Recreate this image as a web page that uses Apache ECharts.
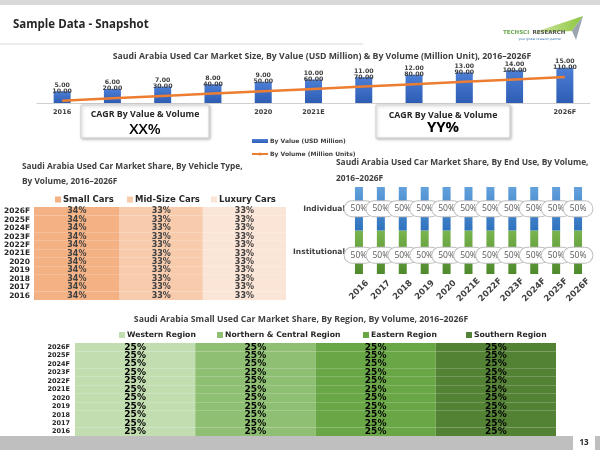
<!DOCTYPE html>
<html><head><meta charset="utf-8">
<script src="https://cdn.jsdelivr.net/npm/echarts@6/dist/echarts.min.js"></script>
<style>html,body{margin:0;padding:0;background:#fff}#c{width:600px;height:450px}</style>
</head><body><div id="c"></div>
<script>
// ---------- data ----------
const years = ['2016','2017','2018','2019','2020','2021E','2022F','2023F','2024F','2025F','2026F'];
const marketValue = [5,6,7,8,9,10,11,12,13,14,15];
const marketVolume = [10,20,30,40,50,60,70,80,90,100,110];
const smallCars = [34,34,34,34,34,34,34,34,34,34,34];
const midSizeCars = [33,33,33,33,33,33,33,33,33,33,33];
const luxuryCars = [33,33,33,33,33,33,33,33,33,33,33];
const individualUse = [50,50,50,50,50,50,50,50,50,50,50];
const institutionalUse = [50,50,50,50,50,50,50,50,50,50,50];
const endUseCategories = ['Institutional','Individual'];
const westernRegion = [25,25,25,25,25,25,25,25,25,25,25];
const northernCentralRegion = [25,25,25,25,25,25,25,25,25,25,25];
const easternRegion = [25,25,25,25,25,25,25,25,25,25,25];
const southernRegion = [25,25,25,25,25,25,25,25,25,25,25];

// ---------- style ----------
const DV = 'DejaVu Sans', OS = 'Open Sans';
const dark = '#404040';
const chart = echarts.init(document.getElementById('c'));
const grad = (a, b) => new echarts.graphic.LinearGradient(0, 0, 0, 1, [{offset:0,color:a},{offset:1,color:b}]);

function hbar(name, data, color, xi, yi, stack, lab) {
  return {
    type:'bar', name, data, stack, xAxisIndex:xi, yAxisIndex:yi,
    barCategoryGap:'0%', itemStyle:{color},
    label:Object.assign({show:true, position:'inside', formatter:'{c}%', fontFamily:DV, fontWeight:'bold'}, lab)
  };
}
function singleLegend(name, left, top, fs) {
  return {data:[name], left, top, icon:'rect', itemWidth:6, itemHeight:6, itemGap:0,
    textStyle:{fontFamily:DV, fontWeight:'bold', fontSize:fs, color:'#262626', padding:[0,0,0,-3]}};
}
const hiddenVal = (gi, max) => ({type:'value', gridIndex:gi, show:false, min:0, max});
const catLabel = (fs, margin) => ({fontFamily:DV, fontWeight:'bold', fontSize:fs, color:'#262626', margin, interval:0});
const ellipseLabel = {show:true, position:'inside', formatter:'{c}%', fontFamily:OS, fontSize:8.5, color:'#595959',
  backgroundColor:'#fff', borderColor:'#bfbfbf', borderWidth:1, borderRadius:14, padding:[3,6]};

const option = {
  animation:false,
  grid:[
    {left:37, top:63, width:553, height:40, outerBoundsMode:'none'},
    {left:34, top:207, width:252, height:93, outerBoundsMode:'none'},
    {left:348, top:187, width:241, height:87, outerBoundsMode:'none'},
    {left:75, top:343, width:481, height:93, outerBoundsMode:'none'}
  ],
  xAxis:[
    {type:'category', gridIndex:0, data:years, axisTick:{show:false},
     axisLine:{lineStyle:{color:'#d0d0d0'}},
     axisLabel:{fontFamily:DV, fontWeight:'bold', fontSize:6.5, color:dark, margin:6,
       interval:(i)=>[0,4,5,10].includes(i)}},
    hiddenVal(1, 100),
    {type:'category', gridIndex:2, data:years, axisTick:{show:false}, axisLine:{show:false},
     axisLabel:{fontFamily:DV, fontWeight:'bold', fontSize:8.5, color:dark, rotate:45,
       align:'center', verticalAlign:'middle', margin:16, interval:0}},
    hiddenVal(3, 100)
  ],
  yAxis:[
    hiddenVal(0, 17),
    hiddenVal(0, 170),
    {type:'category', gridIndex:1, data:years, axisTick:{show:false}, axisLine:{show:false},
     axisLabel:catLabel(7.5, 4)},
    hiddenVal(2, 100),
    {type:'category', gridIndex:2, position:'left', data:endUseCategories, axisTick:{show:false}, axisLine:{show:false},
     axisLabel:Object.assign(catLabel(7.5, 3), {color:dark})},
    {type:'category', gridIndex:3, data:years, axisTick:{show:false}, axisLine:{show:false},
     axisLabel:catLabel(6.5, 5)}
  ],
  legend:[
    {data:[{name:'By Value (USD Million)', icon:'rect'}, {name:'By Volume (Million Units)'}],
     left:246, top:133, orient:'vertical', itemWidth:16, itemHeight:4, itemGap:7,
     textStyle:{fontFamily:DV, fontWeight:'bold', fontSize:6, color:dark, padding:[0,0,0,-3]}},
    singleLegend('Small Cars', 50, 190, 8.5),
    singleLegend('Mid-Size Cars', 122, 190, 8.5),
    singleLegend('Luxury Cars', 206, 190, 8.5),
    singleLegend('Western Region', 114, 326, 7.7),
    singleLegend('Northern & Central Region', 212, 326, 7.7),
    singleLegend('Eastern Region', 358, 326, 7.7),
    singleLegend('Southern Region', 461, 326, 7.7)
  ],
  series:[
    {type:'bar', name:'By Value (USD Million)', data:marketValue, xAxisIndex:0, yAxisIndex:0, barWidth:17,
     itemStyle:{color:grad('#4d7fd6','#2d5cb3')},
     label:{show:true, position:'top', distance:-3,
       formatter:(p)=>'{a|'+marketValue[p.dataIndex].toFixed(2)+'}\n{a|'+marketVolume[p.dataIndex].toFixed(2)+'}',
       rich:{a:{fontFamily:DV, fontWeight:'bold', fontSize:6.2, color:dark, lineHeight:6}}}},
    {type:'line', name:'By Volume (Million Units)', data:marketVolume, xAxisIndex:0, yAxisIndex:1,
     symbol:'none', z:5, lineStyle:{color:'#ED7D31', width:2.5}, itemStyle:{color:'#ED7D31'}},

    hbar('Small Cars', smallCars, '#F4B183', 1, 2, 'veh', {fontSize:8, color:dark}),
    hbar('Mid-Size Cars', midSizeCars, '#F8CBAD', 1, 2, 'veh', {fontSize:8, color:dark}),
    hbar('Luxury Cars', luxuryCars, '#FBE5D6', 1, 2, 'veh', {fontSize:8, color:dark}),

    {type:'bar', name:'Institutional', data:institutionalUse, stack:'use', xAxisIndex:2, yAxisIndex:3, barWidth:8,
     itemStyle:{color:grad('#7ab54f','#4e8a2c')},
     label:Object.assign({offset:[0,3]}, ellipseLabel)},
    {type:'bar', name:'Individual', data:individualUse, stack:'use', xAxisIndex:2, yAxisIndex:3, barWidth:8,
     itemStyle:{color:grad('#62a1dc','#2f72bd')},
     label:ellipseLabel},

    hbar('Western Region', westernRegion, '#C2DDB0', 3, 5, 'reg', {fontSize:9, color:'#000'}),
    hbar('Northern & Central Region', northernCentralRegion, '#8FBF72', 3, 5, 'reg', {fontSize:9, color:'#000'}),
    hbar('Eastern Region', easternRegion, '#69A645', 3, 5, 'reg', {fontSize:9, color:'#000'}),
    hbar('Southern Region', southernRegion, '#548235', 3, 5, 'reg', {fontSize:9, color:'#000'})
  ],
  graphic:[
    {type:'rect', shape:{x:0,y:0,width:600,height:5}, style:{fill:'#d9d9d9'}},
    {type:'text', x:13, y:25, style:{text:'Sample Data - Snapshot', fontFamily:OS, fontWeight:'bold', fontSize:11.5, fill:'#262626', verticalAlign:'middle'}},
    {type:'line', shape:{x1:0,y1:44,x2:363,y2:44}, style:{stroke:'#d9d9d9', lineWidth:1}},
    // logo
    {type:'polygon', shape:{points:[[532,33],[583,16],[572,31]]}, style:{fill:new echarts.graphic.LinearGradient(0,0,1,0,[{offset:0,color:'#d6e9a8'},{offset:1,color:'#8cc63f'}])}},
    {type:'polygon', shape:{points:[[572,31],[583,16],[576,40]]}, style:{fill:'#9aa5ad'}},
    {type:'text', x:503, y:33, style:{text:'{g|TECHSCI} {d|RESEARCH}', verticalAlign:'middle',
      rich:{g:{fontFamily:DV, fontSize:5.5, fill:'#6aa84f', fontWeight:'bold'}, d:{fontFamily:DV, fontSize:5.5, fill:'#555', fontWeight:'bold'}}}},
    {type:'text', x:540, y:39.5, style:{text:'your global research partner', align:'center', verticalAlign:'middle', fontFamily:DV, fontSize:3, fill:'#2f6fb0'}},
    // chart titles
    {type:'text', x:322, y:57, style:{text:'Saudi Arabia Used Car Market Size, By Value (USD Million) & By Volume (Million Unit), 2016\u20132026F', align:'center', verticalAlign:'middle', fontFamily:OS, fontWeight:'bold', fontSize:8.7, fill:dark}},
    {type:'text', x:22, y:167, style:{text:'Saudi Arabia Used Car Market Share, By Vehicle Type,', verticalAlign:'middle', fontFamily:OS, fontWeight:'bold', fontSize:8.3, fill:dark}},
    {type:'text', x:22, y:182, style:{text:'By Volume, 2016\u20132026F', verticalAlign:'middle', fontFamily:OS, fontWeight:'bold', fontSize:8.3, fill:dark}},
    {type:'text', x:336, y:163, style:{text:'Saudi Arabia Used Car Market Share, By End Use, By Volume,', verticalAlign:'middle', fontFamily:OS, fontWeight:'bold', fontSize:8.4, fill:dark}},
    {type:'text', x:336, y:179, style:{text:'2016\u20132026F', verticalAlign:'middle', fontFamily:OS, fontWeight:'bold', fontSize:8.4, fill:dark}},
    {type:'text', x:301, y:320, style:{text:'Saudi Arabia Small Used Car Market Share, By Region, By Volume, 2016\u20132026F', align:'center', verticalAlign:'middle', fontFamily:OS, fontWeight:'bold', fontSize:8.7, fill:dark}},
    // CAGR boxes
    {type:'rect', z:100, shape:{x:81,y:105,width:128,height:33}, style:{fill:'#fff', stroke:'#d0d0d0', lineWidth:1, shadowBlur:3, shadowColor:'rgba(0,0,0,0.25)', shadowOffsetX:1, shadowOffsetY:1}},
    {type:'text', z:101, x:145, y:114, style:{text:'CAGR By Value & Volume', align:'center', verticalAlign:'middle', fontFamily:OS, fontWeight:'bold', fontSize:8.8, fill:'#262626'}},
    {type:'text', z:101, x:145, y:130, style:{text:'XX%', align:'center', verticalAlign:'middle', fontFamily:OS, fontWeight:600, fontSize:15, fill:'#000'}},
    {type:'rect', z:100, shape:{x:376,y:105,width:134,height:33}, style:{fill:'#fff', stroke:'#d0d0d0', lineWidth:1, shadowBlur:3, shadowColor:'rgba(0,0,0,0.25)', shadowOffsetX:1, shadowOffsetY:1}},
    {type:'text', z:101, x:443, y:115, style:{text:'CAGR By Value & Volume', align:'center', verticalAlign:'middle', fontFamily:OS, fontWeight:'bold', fontSize:8.8, fill:'#262626'}},
    {type:'text', z:101, x:443, y:128, style:{text:'YY%', align:'center', verticalAlign:'middle', fontFamily:OS, fontWeight:'bold', fontSize:15, fill:'#000'}},
    // footer
    {type:'rect', shape:{x:0,y:436,width:573,height:14}, style:{fill:'#bfbfbf'}},
    {type:'rect', shape:{x:595,y:436,width:5,height:14}, style:{fill:'#bfbfbf'}},
    {type:'text', x:584, y:443, style:{text:'13', align:'center', verticalAlign:'middle', fontFamily:OS, fontWeight:'bold', fontSize:8, fill:'#262626'}}
  ]
};
chart.setOption(option);
</script></body></html>
